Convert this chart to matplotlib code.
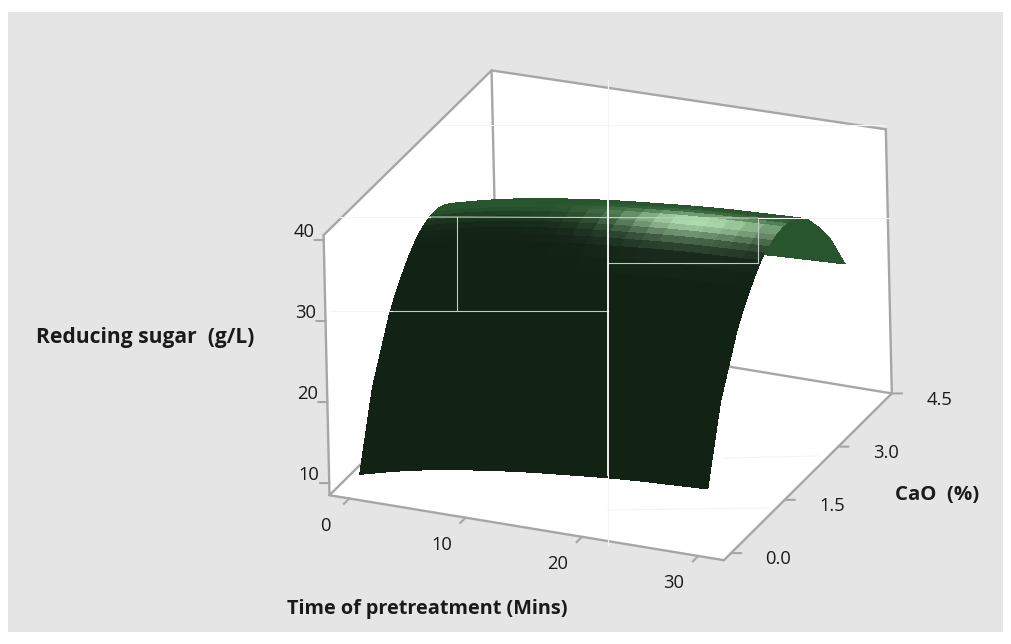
import numpy as np
import matplotlib
matplotlib.use('Agg')
import matplotlib.pyplot as plt
from matplotlib.lines import Line2D
from matplotlib.patches import Rectangle
from mpl_toolkits.mplot3d import proj3d
from mpl_toolkits.mplot3d.art3d import Poly3DCollection

plt.rcParams['font.family'] = ['Open Sans', 'DejaVu Sans']

## values

time_ticks = [0, 10, 20, 30]
cao_ticks = [0.0, 1.5, 3.0, 4.5]
sugar_ticks = [10, 20, 30, 40]

time_lim = (-1.7, 32.2)
cao_lim = (-0.2, 4.5)
sugar_lim = (8.5, 40.6)

time_min = [0, 1.5, 3, 4.5, 6, 7.5, 9, 10.5, 12, 13.5, 15, 16.5, 18, 19.5, 21, 22.5, 24, 25.5, 27, 28.5, 30]
cao_pct = [0.1, 0.5, 1.0, 1.2, 1.4, 1.55, 1.7, 1.8, 1.9, 2.0, 2.1, 2.2, 2.3, 2.4, 2.5, 2.6, 2.8, 3.0, 3.3, 3.6, 4.0]

sugar_t0 = [10.16, 19.08, 25.78, 27.72, 29.30, 30.40, 31.30, 31.79, 32.19, 32.50, 32.72, 32.86, 32.90, 32.86, 32.72, 32.50, 31.79, 30.72, 28.45, 25.78, 20.84]
sugar_t1 = [10.71, 19.63, 26.33, 28.27, 29.85, 30.95, 31.85, 32.34, 32.74, 33.05, 33.27, 33.41, 33.45, 33.41, 33.27, 33.05, 32.34, 31.27, 29.00, 26.33, 21.39]
sugar_t3 = [11.26, 20.18, 26.88, 28.82, 30.40, 31.50, 32.40, 32.89, 33.29, 33.60, 33.82, 33.96, 34.00, 33.96, 33.82, 33.60, 32.89, 31.82, 29.55, 26.88, 21.94]
sugar_t4 = [11.71, 20.63, 27.33, 29.27, 30.85, 31.95, 32.85, 33.34, 33.74, 34.05, 34.27, 34.41, 34.45, 34.41, 34.27, 34.05, 33.34, 32.27, 30.00, 27.33, 22.39]
sugar_t6 = [12.16, 21.08, 27.78, 29.72, 31.30, 32.40, 33.30, 33.79, 34.19, 34.50, 34.72, 34.86, 34.90, 34.86, 34.72, 34.50, 33.79, 32.72, 30.45, 27.78, 22.84]
sugar_t7 = [12.51, 21.43, 28.13, 30.07, 31.65, 32.75, 33.65, 34.14, 34.54, 34.85, 35.07, 35.21, 35.25, 35.21, 35.07, 34.85, 34.14, 33.07, 30.80, 28.13, 23.19]
sugar_t9 = [12.86, 21.78, 28.48, 30.42, 32.00, 33.10, 34.00, 34.49, 34.89, 35.20, 35.42, 35.56, 35.60, 35.56, 35.42, 35.20, 34.49, 33.42, 31.15, 28.48, 23.54]
sugar_t10 = [13.16, 22.08, 28.78, 30.72, 32.30, 33.40, 34.30, 34.79, 35.19, 35.50, 35.72, 35.86, 35.90, 35.86, 35.72, 35.50, 34.79, 33.72, 31.45, 28.78, 23.84]
sugar_t12 = [13.46, 22.38, 29.08, 31.02, 32.60, 33.70, 34.60, 35.09, 35.49, 35.80, 36.02, 36.16, 36.20, 36.16, 36.02, 35.80, 35.09, 34.02, 31.75, 29.08, 24.14]
sugar_t13 = [13.71, 22.63, 29.33, 31.27, 32.85, 33.95, 34.85, 35.34, 35.74, 36.05, 36.27, 36.41, 36.45, 36.41, 36.27, 36.05, 35.34, 34.27, 32.00, 29.33, 24.39]
sugar_t15 = [13.96, 22.88, 29.58, 31.52, 33.10, 34.20, 35.10, 35.59, 35.99, 36.30, 36.52, 36.66, 36.70, 36.66, 36.52, 36.30, 35.59, 34.52, 32.25, 29.58, 24.64]
sugar_t16 = [14.16, 23.08, 29.78, 31.72, 33.30, 34.40, 35.30, 35.79, 36.19, 36.50, 36.72, 36.86, 36.90, 36.86, 36.72, 36.50, 35.79, 34.72, 32.45, 29.78, 24.84]
sugar_t18 = [14.36, 23.28, 29.98, 31.92, 33.50, 34.60, 35.50, 35.99, 36.39, 36.70, 36.92, 37.06, 37.10, 37.06, 36.92, 36.70, 35.99, 34.92, 32.65, 29.98, 25.04]
sugar_t19 = [14.56, 23.48, 30.18, 32.12, 33.70, 34.80, 35.70, 36.19, 36.59, 36.90, 37.12, 37.26, 37.30, 37.26, 37.12, 36.90, 36.19, 35.12, 32.85, 30.18, 25.24]
sugar_t21 = [14.76, 23.68, 30.38, 32.32, 33.90, 35.00, 35.90, 36.39, 36.79, 37.10, 37.32, 37.46, 37.50, 37.46, 37.32, 37.10, 36.39, 35.32, 33.05, 30.38, 25.44]
sugar_t22 = [14.91, 23.83, 30.53, 32.47, 34.05, 35.15, 36.05, 36.54, 36.94, 37.25, 37.47, 37.61, 37.65, 37.61, 37.47, 37.25, 36.54, 35.47, 33.20, 30.53, 25.59]
sugar_t24 = [15.06, 23.98, 30.68, 32.62, 34.20, 35.30, 36.20, 36.69, 37.09, 37.40, 37.62, 37.76, 37.80, 37.76, 37.62, 37.40, 36.69, 35.62, 33.35, 30.68, 25.74]
sugar_t25 = [15.16, 24.08, 30.78, 32.72, 34.30, 35.40, 36.30, 36.79, 37.19, 37.50, 37.72, 37.86, 37.90, 37.86, 37.72, 37.50, 36.79, 35.72, 33.45, 30.78, 25.84]
sugar_t27 = [15.26, 24.18, 30.88, 32.82, 34.40, 35.50, 36.40, 36.89, 37.29, 37.60, 37.82, 37.96, 38.00, 37.96, 37.82, 37.60, 36.89, 35.82, 33.55, 30.88, 25.94]
sugar_t28 = [15.36, 24.28, 30.98, 32.92, 34.50, 35.60, 36.50, 36.99, 37.39, 37.70, 37.92, 38.06, 38.10, 38.06, 37.92, 37.70, 36.99, 35.92, 33.65, 30.98, 26.04]
sugar_t30 = [15.46, 24.38, 31.08, 33.02, 34.60, 35.70, 36.60, 37.09, 37.49, 37.80, 38.02, 38.16, 38.20, 38.16, 38.02, 37.80, 37.09, 36.02, 33.75, 31.08, 26.14]

sugar = np.array([sugar_t0, sugar_t1, sugar_t3, sugar_t4, sugar_t6, sugar_t7, sugar_t9,
                  sugar_t10, sugar_t12, sugar_t13, sugar_t15, sugar_t16, sugar_t18,
                  sugar_t19, sugar_t21, sugar_t22, sugar_t24, sugar_t25, sugar_t27,
                  sugar_t28, sugar_t30])

W, H = 1012, 644
GRIS = '#a6a6a6'
ENCRE = '#1a1a1a'


def fx(x):
    return x / W


def fy(y):
    return 1 - y / H


fig = plt.figure(figsize=(W / 100, H / 100), dpi=100, facecolor='white')
fig.add_artist(Rectangle((fx(8), fy(632)), (1003 - 8) / W, (632 - 12) / H,
                         transform=fig.transFigure, facecolor='#e5e5e5', edgecolor='none', zorder=-5))

ax = fig.add_axes([277 / W, -1 / H, H / W, 1], projection='3d', proj_type='ortho', computed_zorder=False)
ax.patch.set_alpha(0)
ax.set_axis_off()
ax.set_xlim(*time_lim)
ax.set_ylim(*cao_lim)
ax.set_zlim(*sugar_lim)
ax.set_box_aspect((430, 422, 287), zoom=1.006)
ax.view_init(elev=25, azim=-66, roll=1.3)


def etiquette(x, y, z, s):
    # texte place en 2D a l'endroit ou tombe le point 3D
    u, v, _ = proj3d.proj_transform(x, y, z, ax.get_proj())
    ax.text2D(u, v, s, transform=ax.transData, ha='center', va='center', fontsize=13.2, color=ENCRE)


x0, x1 = time_lim
y0, y1 = cao_lim
z0, z1 = sugar_lim
zb = z1 - 0.25   # coin du fond
zd = z1 + 0.5    # coin de droite

# les trois faces blanches de la boite
faces = [[(x0, y0, z0), (x1, y0, z0), (x1, y1, z0), (x0, y1, z0)],
         [(x0, y0, z0), (x0, y1, z0), (x0, y1, zb), (x0, y0, z1)],
         [(x0, y1, z0), (x1, y1, z0), (x1, y1, zd), (x0, y1, zb)]]
ax.add_collection3d(Poly3DCollection(faces, facecolors='white', edgecolors='none', zorder=1))

# aretes
aretes = [[(x0, y0, z0), (x1, y0, z0)], [(x1, y0, z0), (x1, y1, z0)],
          [(x1, y1, z0), (x0, y1, z0)], [(x0, y1, z0), (x0, y0, z0)],
          [(x0, y0, z0), (x0, y0, z1)], [(x0, y1, z0), (x0, y1, zb)],
          [(x1, y1, z0), (x1, y1, zd)], [(x0, y0, z1), (x0, y1, zb)],
          [(x0, y1, zb), (x1, y1, zd)]]
for a, b in aretes:
    ax.plot([a[0], b[0]], [a[1], b[1]], [a[2], b[2]], color=GRIS, lw=1.7, zorder=2, solid_capstyle='round')

# graduations et etiquettes
for t in time_ticks:
    ax.plot([t, t], [y0, y0 - 0.15], [z0, z0], color=GRIS, lw=1.5, zorder=2)
    etiquette(t + 0.22, y0 - 0.75, z0, str(t))
for c in cao_ticks:
    ax.plot([x1, x1 + 0.74], [c, c + 0.04], [z0, z0], color=GRIS, lw=1.5, zorder=2)
    etiquette(x1 + 3.95, c + 0.04, z0, '%.1f' % c)
for s in sugar_ticks:
    ax.plot([x0, x0 - 0.67], [y0, y0 - 0.035], [s, s], color=GRIS, lw=1.5, zorder=2)
    etiquette(x0 - 2.1, y0 + 0.126, s, str(s))

# couleur de chaque facette d'apres sa pente
T, C = np.meshgrid(time_min, cao_pct, indexing='ij')
dz_dt, dz_dc = np.gradient(sugar, time_min, cao_pct)
pente_c = dz_dc * 0.0996

sombre = np.array([18, 35, 21]) / 255
moyen = np.array([40, 85, 45]) / 255
clair = np.array([178, 224, 178]) / 255

base = np.exp(-(np.clip(pente_c, 0, None) / 0.25) ** 2)[..., None]
base = sombre + (moyen - sombre) * base
largeur_c = np.where(pente_c < 0.13, 0.16, 0.3)
largeur_t = np.where(T < 22, 6.5, 9.0)
reflet = np.exp(-((pente_c - 0.13) / largeur_c) ** 2) * np.exp(-((T - 22) / largeur_t) ** 2)
reflet = reflet[..., None]
couleurs = base + (clair - base) * reflet
couleurs = np.clip(couleurs, 0, 1)

ax.plot_surface(T, C, sugar, facecolors=couleurs, rstride=1, cstride=1, shade=False,
                linewidth=0.3, edgecolor='none', antialiased=False, zorder=3)

# lignes de raccord du rendu, en pixels de l'image
raccords_clairs = [((430, 217), (758, 218)), ((392, 311), (608, 311)), ((608, 263), (758, 263)),
                   ((457, 217), (457, 311)), ((758, 218), (758, 263))]
for a, b in raccords_clairs:
    fig.add_artist(Line2D([fx(a[0]), fx(b[0])], [fy(a[1]), fy(b[1])], color='#c2cdc2', lw=0.8, zorder=5))
fig.add_artist(Line2D([fx(608), fx(608)], [fy(199), fy(475)], color='white', lw=1.3, zorder=5))

raccords_pales = [((440, 125), (886, 125)), ((340, 217), (430, 217)), ((758, 218), (889, 218)),
                  ((330, 311), (392, 311)), ((608, 80), (608, 199)), ((608, 475), (608, 545)),
                  ((608, 510), (770, 508)), ((725, 458), (820, 456))]
for a, b in raccords_pales:
    fig.add_artist(Line2D([fx(a[0]), fx(b[0])], [fy(a[1]), fy(b[1])], color='#f4f4f4', lw=0.8, zorder=5))

fig.text(fx(145), fy(337), 'Reducing sugar  (g/L)', ha='center', va='center', fontsize=15.1, fontweight='bold', color=ENCRE)
fig.text(fx(427), fy(609), 'Time of pretreatment (Mins)', ha='center', va='center', fontsize=14.3, fontweight='bold', color=ENCRE)
fig.text(fx(937), fy(495), 'CaO  (%)', ha='center', va='center', fontsize=14.7, fontweight='bold', color=ENCRE)

fig.savefig('out.png', dpi=100)
